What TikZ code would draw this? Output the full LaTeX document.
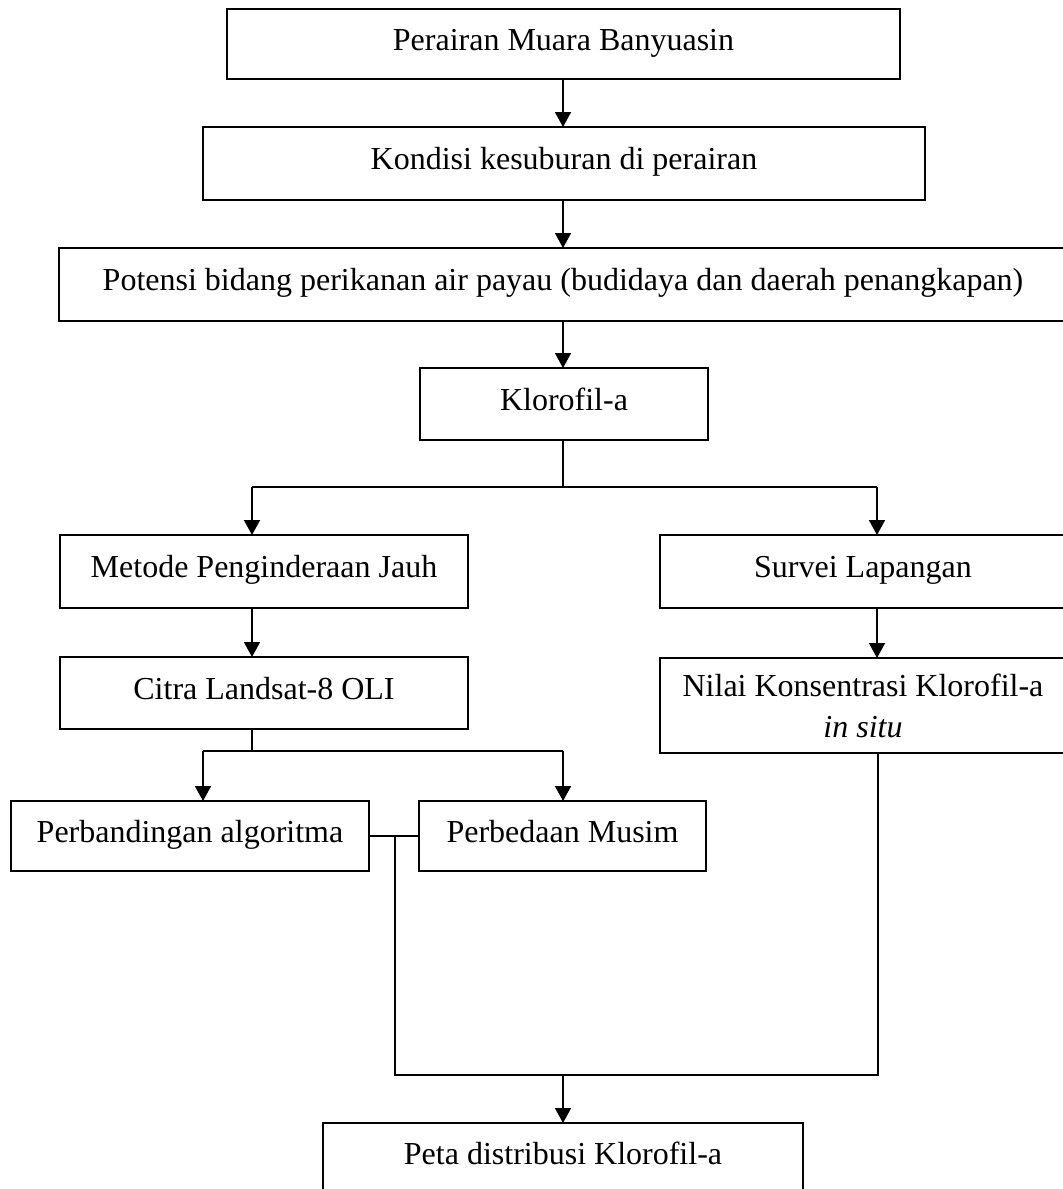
\documentclass[tikz,border=0pt]{standalone}
\usepackage{fontspec}
\setmainfont{Liberation Serif}
\usetikzlibrary{arrows.meta}
\begin{document}
\begin{tikzpicture}[x=0.5pt,y=-0.5pt,
  box/.style={draw, line width=0.85pt, rectangle, inner sep=0pt, outer sep=0pt,
    font=\fontsize{16pt}{20.5pt}\selectfont},
  oneline/.style={text height=11.2pt, text depth=4.8pt},
  conn/.style={line width=0.8pt},
  bar/.style={line width=0.9pt},
  arr/.style={conn, -{Triangle[length=7.5pt,width=8pt]}}]
\useasboundingbox (0,0) rectangle (1063,1189);
\clip (0,0) rectangle (1063,1189);

\node[box,oneline,minimum width=336.5pt,minimum height=35pt] (b1) at (563.5,44) {Perairan Muara Banyuasin};
\node[box,oneline,minimum width=361pt,minimum height=36.5pt] (b2) at (564,163.5) {Kondisi kesuburan di perairan};
\node[box,oneline,minimum width=504pt,minimum height=36.5pt] (b3) at (563,284.5) {Potensi bidang perikanan air payau (budidaya dan daerah penangkapan)};
\node[box,oneline,minimum width=144pt,minimum height=36pt] (b4) at (564,404) {Klorofil-a};
\node[box,oneline,minimum width=204pt,minimum height=36.5pt] (b5) at (264,571.5) {Metode Penginderaan Jauh};
\node[box,oneline,minimum width=203pt,minimum height=36.5pt] (b6) at (863,571.5) {Survei Lapangan};
\node[box,oneline,minimum width=204pt,minimum height=36pt] (b7) at (264,693) {Citra Landsat-8 OLI};
\node[box,align=center,minimum width=203pt,minimum height=47.5pt] (b8) at (863,705.5) {Nilai Konsentrasi Klorofil-a\\\textit{in situ}};
\node[box,oneline,minimum width=179pt,minimum height=35pt] (b9) at (190,836) {Perbandingan algoritma};
\node[box,oneline,minimum width=143.5pt,minimum height=35pt] (b10) at (562.5,836) {Perbedaan Musim};
\node[box,oneline,minimum width=240pt,minimum height=35pt] (b11) at (563,1158) {Peta distribusi Klorofil-a};

% coordinates
\coordinate (c) at (563,0);
\coordinate (j) at (563,487);
\coordinate (jl) at (252,487);
\coordinate (jr) at (877,487);
\coordinate (k) at (252,751);
\coordinate (kl) at (203,751);
\coordinate (kr) at (563,751);
\coordinate (m) at (395,836);
\coordinate (m1) at (395,1075);
\coordinate (m2) at (878,1075);
\coordinate (mc) at (563,1075);

% top chain
\draw[arr] (c |- b1.south) -- (c |- b2.north);
\draw[arr] (c |- b2.south) -- (c |- b3.north);
\draw[arr] (c |- b3.south) -- (c |- b4.north);

% split after Klorofil-a
\draw[conn] (c |- b4.south) -- (j);
\draw[bar] (jl) -- (jr);
\draw[arr] (jl) -- (jl |- b5.north);
\draw[arr] (jr) -- (jr |- b6.north);
\draw[arr] (jl |- b5.south) -- (jl |- b7.north);
\draw[arr] (jr |- b6.south) -- (jr |- b8.north);

% split after Citra
\draw[conn] (jl |- b7.south) -- (k);
\draw[bar] (kl) -- (kr);
\draw[arr] (kl) -- (kl |- b9.north);
\draw[arr] (kr) -- (kr |- b10.north);

% merge
\draw[conn] (b9.east) -- (b10.west);
\draw[conn] (m) -- (m1) -- (m2) -- (m2 |- b8.south);
\draw[arr] (mc) -- (mc |- b11.north);
\end{tikzpicture}
\end{document}
